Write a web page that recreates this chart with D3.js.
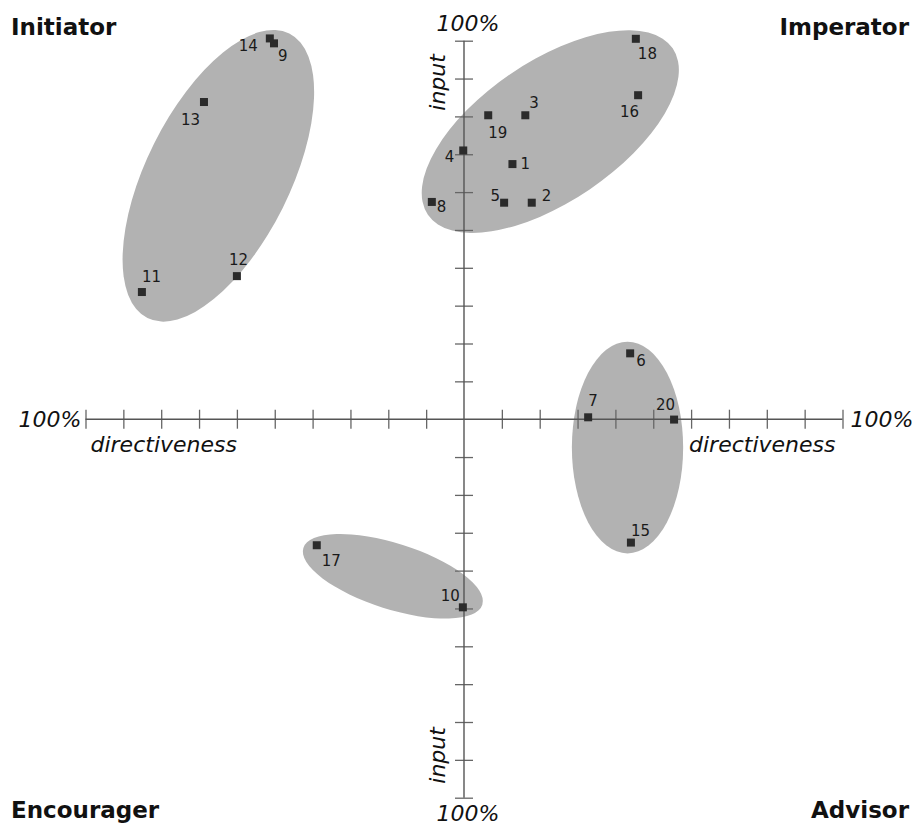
<!DOCTYPE html>
<html lang="en">
	<head>
		<meta charset="utf-8">
		<title>Directiveness / input</title>
		<script src="https://d3js.org/d3.v7.min.js"></script>
		<style>
			html, body {
				margin: 0;
				padding: 0;
				background: #fff;
			}

			svg text {
				font-family: "DejaVu Sans", Verdana, sans-serif;
				fill: #111;
			}

			.axis-title {
				font-style: italic;
				font-size: 22px;
			}

			.quadrant {
				font-weight: bold;
				font-size: 23px;
			}

			.point-label {
				font-size: 15px;
				fill: #1a1a1a;
			}
		</style>
	</head>
	<body>
		<div id="chart"></div>

		<script>
			// point ids with their directiveness (x) and input (y), in percent
			var pointIds = [1, 2, 3, 4, 5, 6, 7, 8, 9, 10, 11, 12, 13, 14, 15, 16, 17, 18, 19, 20];
			var directiveness = [12.8, 17.9, 16.2, -0.2, 10.6, 43.9, 32.8, -8.5, -50.2, -0.3,
								-85.1, -60.0, -68.7, -51.3, 44.1, 46.0, -38.9, 45.4, 6.4, 55.5];
			var input = [67.4, 57.2, 80.3, 71.0, 57.2, 17.4, 0.5, 57.4, 99.3, -49.7,
						33.6, 37.8, 83.8, 100.6, -32.6, 85.6, -33.3, 100.5, 80.3, -0.1];

			// clusters drawn as ellipses: centre, semi axes (percent) and tilt (degrees)
			var clusterCx = [-64.9, 22.8, 43.2, -18.8];
			var clusterCy = [64.3, 76.0, -7.5, -41.5];
			var clusterA = [42.0, 39.1, 14.7, 24.8];
			var clusterB = [19.0, 18.5, 27.95, 8.7];
			var clusterTilt = [63.5, 34.2, 0, -17.6];

			var tickValues = d3.range(-100, 101, 10).filter(function(v) { return v !== 0; });
			var quadrants = ["Initiator", "Imperator", "Encourager", "Advisor"];

			// where each number sits next to its square: [dx, dy, anchor] in pixels
			var labelPlacement = {
				1: [8, 5, "start"], 2: [10, -2, "start"], 3: [4, -7, "start"], 4: [-9, 12, "end"],
				5: [-4, -2, "end"], 6: [6, 13, "start"], 7: [0, -11, "start"], 8: [5, 10, "start"],
				9: [4, 18, "start"], 10: [-3, -6, "end"], 11: [0, -10, "start"], 12: [-8, -11, "start"],
				13: [-4, 23, "end"], 14: [-12, 13, "end"], 15: [0, -7, "start"], 16: [1, 22, "end"],
				17: [5, 21, "start"], 18: [2, 20, "start"], 19: [0, 23, "start"], 20: [1, -10, "end"]
			};

			var w = 919, h = 825;

			var x = d3.scaleLinear().domain([-100, 100]).range([85.5, 842.5]);
			var y = d3.scaleLinear().domain([-100, 100]).range([797.7, 40.7]);
			var k = x(1) - x(0);
			var x0 = x(0), y0 = y(0);

			var svg = d3.select("#chart")
						.append("svg")
						.attr("width", w)
						.attr("height", h);

			// ellipses
			var clusters = d3.range(clusterCx.length);
			svg.append("g")
				.selectAll("ellipse")
				.data(clusters)
				.enter()
				.append("ellipse")
				.attr("transform", function(i) {
					return "translate(" + x(clusterCx[i]) + "," + y(clusterCy[i]) + ") rotate(" + (-clusterTilt[i]) + ")";
				})
				.attr("rx", function(i) { return clusterA[i] * k; })
				.attr("ry", function(i) { return clusterB[i] * k; })
				.attr("fill", "#b2b2b2");

			// axes
			var axisColor = "#555";
			var xAxis = d3.axisBottom(x).tickValues(tickValues).tickSize(19).tickFormat("");
			var yAxis = d3.axisRight(y).tickValues(tickValues).tickSize(18).tickFormat("");

			var gx = svg.append("g").attr("transform", "translate(0," + (y0 - 9.5) + ")").call(xAxis);
			var gy = svg.append("g").attr("transform", "translate(" + (x0 - 9) + ",0)").call(yAxis);
			gx.select(".domain").remove();
			gy.select(".domain").remove();
			svg.selectAll(".tick line").attr("stroke", "#666").attr("stroke-width", 1.3);

			svg.append("line")
				.attr("x1", x(-100)).attr("x2", x(100))
				.attr("y1", y0).attr("y2", y0)
				.attr("stroke", axisColor).attr("stroke-width", 1.4);
			svg.append("line")
				.attr("x1", x0).attr("x2", x0)
				.attr("y1", y(100)).attr("y2", y(-100))
				.attr("stroke", axisColor).attr("stroke-width", 1.4);

			// axis titles
			svg.append("text").attr("class", "axis-title")
				.attr("x", x(-100) - 4).attr("y", y0 + 8).attr("text-anchor", "end").text("100%");
			svg.append("text").attr("class", "axis-title")
				.attr("x", x(100) + 8).attr("y", y0 + 8).attr("text-anchor", "start").text("100%");
			svg.append("text").attr("class", "axis-title")
				.attr("x", x0 + 4).attr("y", y(100) - 10).attr("text-anchor", "middle").text("100%");
			svg.append("text").attr("class", "axis-title")
				.attr("x", x0 + 4).attr("y", y(-100) + 23).attr("text-anchor", "middle").text("100%");
			svg.append("text").attr("class", "axis-title")
				.attr("x", x(-100) + 5).attr("y", y0 + 33).attr("text-anchor", "start").text("directiveness");
			svg.append("text").attr("class", "axis-title")
				.attr("x", x(100) - 7).attr("y", y0 + 33).attr("text-anchor", "end").text("directiveness");
			svg.append("text").attr("class", "axis-title")
				.attr("transform", "translate(" + (x0 - 19) + "," + y(81.5) + ") rotate(-90)")
				.attr("text-anchor", "start").text("input");
			svg.append("text").attr("class", "axis-title")
				.attr("transform", "translate(" + (x0 - 19) + "," + y(-96.3) + ") rotate(-90)")
				.attr("text-anchor", "start").text("input");

			// quadrant names
			var qx = [11, 909, 11, 909], qy = [35, 35, 818, 818];
			svg.append("g")
				.selectAll("text")
				.data(quadrants)
				.enter()
				.append("text")
				.attr("class", "quadrant")
				.attr("x", function(d, i) { return qx[i]; })
				.attr("y", function(d, i) { return qy[i]; })
				.attr("text-anchor", function(d, i) { return i % 2 ? "end" : "start"; })
				.text(function(d) { return d; });

			// points
			var size = 8;
			var pts = svg.append("g")
						.selectAll("g")
						.data(pointIds)
						.enter()
						.append("g")
						.attr("transform", function(d, i) {
							return "translate(" + x(directiveness[i]) + "," + y(input[i]) + ")";
						});

			pts.append("rect")
				.attr("x", -size / 2)
				.attr("y", -size / 2)
				.attr("width", size)
				.attr("height", size)
				.attr("fill", "#2b2b2b");

			pts.append("text")
				.attr("class", "point-label")
				.attr("x", function(d) { return labelPlacement[d][0]; })
				.attr("y", function(d) { return labelPlacement[d][1]; })
				.attr("text-anchor", function(d) { return labelPlacement[d][2]; })
				.text(function(d) { return d; });
		</script>
	</body>
</html>
